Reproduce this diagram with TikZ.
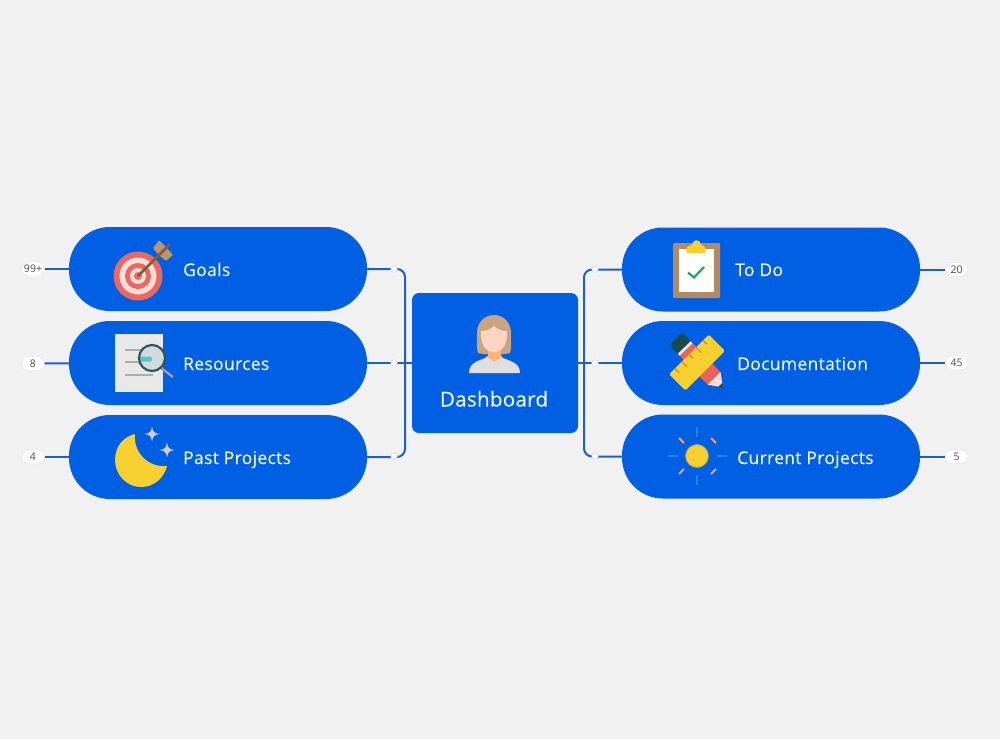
\documentclass[tikz,border=0pt]{standalone}
\usepackage{fontspec}
\setmainfont{Open Sans}
\definecolor{bgc}{HTML}{F1F1F1}
\definecolor{blu}{HTML}{005FE3}
\definecolor{conc}{HTML}{1F5FBE}
\definecolor{txt}{HTML}{F0F7FF}
\definecolor{yel}{HTML}{F6D02F}
\definecolor{redc}{HTML}{E9685F}
\definecolor{pinkc}{HTML}{FBDFD6}
\definecolor{tan1}{HTML}{BE9468}
\definecolor{brn}{HTML}{7E5B3C}
\tikzset{
  pill/.style={fill=blu,draw=none,minimum width=298pt,minimum height=84pt,rounded corners=41pt,inner sep=0pt},
  hub/.style={fill=blu,draw=none,minimum width=166pt,minimum height=140pt,rounded corners=7pt,inner sep=0pt},
  conn/.style={draw=conc,line width=2pt},
  badge/.style={fill=white,draw=gray!25,line width=.4pt,minimum width=23pt,minimum height=14pt,rounded corners=7pt,inner sep=0pt,font=\fontsize{10.5}{12}\selectfont,text=black!70},
  handle/.style={circle,fill=white,draw=conc!25,line width=.5pt,minimum size=6.5pt,inner sep=0pt},
  lab/.style={anchor=base west,inner sep=0pt,text=txt,font=\fontsize{17.5}{20}\selectfont\addfontfeatures{LetterSpace=1.8,FakeBold=0.35}},
}
\begin{document}
\begin{tikzpicture}[x=1pt,y=-1pt]
\useasboundingbox[fill=bgc] (0,0) rectangle (1000,739);
% main nodes
\node[pill] (goals) at (218,269) {};
\node[pill] (resources) at (218,363) {};
\node[pill] (past) at (218,457) {};
\node[pill] (todo) at (771,269.5) {};
\node[pill] (docs) at (771,363) {};
\node[pill] (current) at (771,456.5) {};
\node[hub] (dash) at (495,363) {};
% badges
\node[badge] (b1) at (33,269) {99+};
\node[badge] (b2) at (33,363.5) {8};
\node[badge] (b3) at (33,457) {4};
\node[badge] (b4) at (956.5,269.5) {20};
\node[badge] (b5) at (956.5,363) {45};
\node[badge] (b6) at (956.5,456.5) {5};
% connectors
\coordinate (brL) at (405,363);
\coordinate (brR) at (584,363);
\draw[conn] (b1) -- (goals);
\draw[conn] (b2) -- (resources);
\draw[conn] (b3) -- (past);
\draw[conn] (todo) -- (b4);
\draw[conn] (docs) -- (b5);
\draw[conn] (current) -- (b6);
\draw[conn,rounded corners=8pt] (goals.east) -| (brL) |- (past.east);
\draw[conn] (resources.east) -- (dash.west);
\draw[conn,rounded corners=8pt] (todo.west) -| (brR) |- (current.west);
\draw[conn] (dash.east) -- (docs.west);
\node[handle] (h1) at (394,269) {};
\node[handle] (h2) at (394,363) {};
\node[handle] (h3) at (394,456.5) {};
\node[handle] (h4) at (595,269) {};
\node[handle] (h5) at (595,363) {};
\node[handle] (h6) at (595,456) {};
% labels
\node[lab] (t1) at (183,276) {Goals};
\node[lab] (t2) at (183,370) {Resources};
\node[lab] (t3) at (183,464) {Past Projects};
\node[lab] (t4) at (735,276) {To Do};
\node[lab] (t5) at (737,370) {Documentation};
\node[lab] (t6) at (737,464) {Current Projects};
\node[anchor=base,inner sep=0pt,text=txt,font=\fontsize{20.5}{24}\selectfont\addfontfeatures{LetterSpace=1.5,FakeBold=0.35}] (t7) at (494,406.5) {Dashboard};
% target icon
\fill[redc] (138,276) circle (24.5);
\fill[pinkc] (138,276) circle (18.5);
\fill[redc] (138,276) circle (13);
\fill[pinkc] (138,276) circle (8);
\fill[redc] (138,276) circle (4);
\fill[tan1,rounded corners=1pt] (159,240) -- (165,246) -- (173,255) -- (166,261) -- (160,256) -- (153,248.5) -- cycle;
\draw[brn,line width=2.6pt] (138,276) -- (170,244);
% resources icon
\fill[gray!18] (115,334) rectangle (163,392);
\foreach \yy/\xa in {350/150,362/145,375/153}
  \draw[gray!65,line width=1.6pt] (125,\yy) -- (\xa,\yy);
\draw[gray!75,line width=2.4pt] (161,368) -- (173,377);
\fill[cyan!18!gray!35!white] (152,358) circle (13);
\fill[teal!60!cyan!70!white,rounded corners=2pt] (140,356.5) rectangle (152,361.5);
\draw[black!55!teal!60!gray,line width=2.2pt] (152,358) circle (13);
% moon icon
\fill[yel] (135,434) .. controls (122,437) and (115,448) .. (115,460)
  .. controls (115,475) and (127,487) .. (141,487)
  .. controls (154,487) and (164,478) .. (167,466)
  .. controls (150,468) and (133,454) .. (135,434) -- cycle;
\foreach \cx/\cy in {152/434,167/450}
  \fill[blue!12!gray!35!white] (\cx,\cy-7.5) .. controls (\cx+1,\cy-2) and (\cx+2,\cy-1) .. (\cx+7.5,\cy)
   .. controls (\cx+2,\cy+1) and (\cx+1,\cy+2) .. (\cx,\cy+7.5)
   .. controls (\cx-1,\cy+2) and (\cx-2,\cy+1) .. (\cx-7.5,\cy)
   .. controls (\cx-2,\cy-1) and (\cx-1,\cy-2) .. (\cx,\cy-7.5) -- cycle;
% clipboard icon
\fill[tan1!85!brn,rounded corners=1pt] (673,243) rectangle (720,298);
\fill[white] (679,249) rectangle (714,292);
\fill[yel,rounded corners=1.5pt] (686,253) -- (687,246) -- (692,245.5) .. controls (693,239) and (700,239) .. (701,245.5) -- (705,246) -- (706,253) -- cycle;
\draw[green!45!teal!80!gray,line width=2.2pt] (688,272.5) -- (694,277.5) -- (704,267);
% pencil and ruler icon
\begin{scope}[shift={(678,341)},rotate=-46]
  \fill[black!50!teal!80!gray,rounded corners=2pt] (-3,-9) rectangle (9,9);
  \fill[pinkc] (9,-9) rectangle (12,9);
  \fill[redc!95!red] (12,-9) rectangle (52,9);
  \fill[pinkc] (52,-9) -- (61,-2.5) -- (61,2.5) -- (52,9) -- cycle;
  \fill[black!75] (61,-2.5) -- (66,0) -- (61,2.5) -- cycle;
\end{scope}
\begin{scope}[shift={(697,362.5)},rotate=45]
  \fill[yel,rounded corners=1.5pt] (-28,-11.5) rectangle (28,11.5);
  \foreach \tx/\tl in {-20/-6,-10/-4,0/-6,10/-4,20/-6}
    \draw[orange!80!brown,line width=1.2pt] (\tx,-11.5) -- (\tx,\tl);
\end{scope}
% sun icon
\fill[yel,draw=gray!70!yel,line width=.8pt] (697,456) circle (11.5);
\foreach \xa/\ya/\xb/\yb in {697/427/697/437,697/475/697/485,668/456/678/456,717/456/727/456}
  \draw[cyan!60!blue!90!white,line width=2pt] (\xa,\ya) -- (\xb,\yb);
\foreach \xa/\ya/\xb/\yb in {679/438/684/443,711/438/716/443,679/474/684/469,711/474/716/469}
  \draw[orange!45!pink,line width=2pt] (\xa,\ya) -- (\xb,\yb);
% person icon
\fill[tan1!85!white] (478,353) .. controls (476,345) and (477,338) .. (477,333)
  .. controls (477,322) and (485,315) .. (494,315)
  .. controls (503,315) and (511,322) .. (511,333)
  .. controls (511,340) and (512,347) .. (510,353) .. controls (505,355) and (484,355) .. (478,353) -- cycle;
\fill[gray!25] (469,373) .. controls (469,362) and (479,361) .. (487,357) -- (501,357)
  .. controls (509,361) and (520,362) .. (520,373) -- cycle;
\fill[orange!45!pinkc] (488,350) rectangle (501,357);
\fill[orange!45!pinkc] (486,356) -- (503,356) -- (494.5,362) -- cycle;
\fill[pinkc!90!orange] (481,331) .. controls (487,331) and (491,329) .. (494,326)
  .. controls (497,329) and (502,331) .. (507,331)
  .. controls (508,345) and (502,352) .. (494,352)
  .. controls (486,352) and (480,345) .. (481,331) -- cycle;
\end{tikzpicture}
\end{document}
